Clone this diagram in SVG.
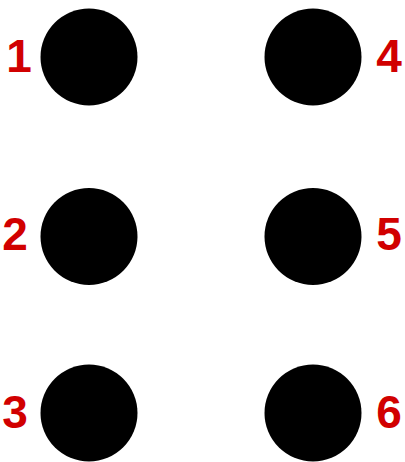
<svg xmlns="http://www.w3.org/2000/svg" width="405" height="462" viewBox="0 0 405 462">
<style>
.dot{fill:#000}
.lbl{font-family:"Liberation Sans",Arial,sans-serif;font-weight:bold;font-size:46px;fill:#d10000;text-anchor:middle}
</style>
<rect width="405" height="462" fill="#fff"/>
<g id="dot1"><circle class="dot" cx="89" cy="57" r="48.5"/><text class="lbl" x="19" y="72">1</text></g>
<g id="dot2"><circle class="dot" cx="89" cy="236.5" r="48.5"/><text class="lbl" x="15" y="250">2</text></g>
<g id="dot3"><circle class="dot" cx="89" cy="413" r="48.5"/><text class="lbl" x="15" y="428">3</text></g>
<g id="dot4"><circle class="dot" cx="313" cy="57" r="48.5"/><text class="lbl" x="389" y="72">4</text></g>
<g id="dot5"><circle class="dot" cx="313" cy="236.5" r="48.5"/><text class="lbl" x="389" y="250">5</text></g>
<g id="dot6"><circle class="dot" cx="313" cy="413" r="48.5"/><text class="lbl" x="389" y="428">6</text></g>
<g id="connectors"/>
</svg>
